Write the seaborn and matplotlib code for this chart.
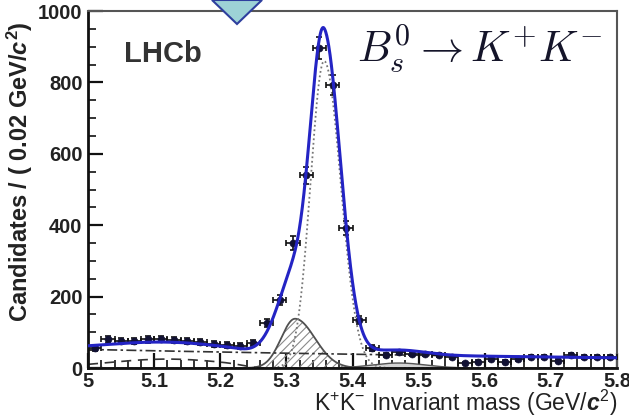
import numpy as np
import pandas as pd
import matplotlib
matplotlib.use("Agg")
import matplotlib.pyplot as plt
import seaborn as sns
from matplotlib.patches import Polygon
from matplotlib.ticker import MultipleLocator

# ---------------- data ----------------
mass_bins = [5.01, 5.03, 5.05, 5.07, 5.09, 5.11, 5.13, 5.15, 5.17, 5.19,
             5.21, 5.23, 5.25, 5.27, 5.29, 5.31, 5.33, 5.35, 5.37, 5.39,
             5.41, 5.43, 5.45, 5.47, 5.49, 5.51, 5.53, 5.55, 5.57, 5.59,
             5.61, 5.63, 5.65, 5.67, 5.69, 5.71, 5.73, 5.75, 5.77, 5.79]
candidates = [55, 80, 76, 76, 80, 82, 79, 76, 72, 68,
              65, 62, 70, 126, 190, 350, 540, 896, 793, 392,
              134, 56, 36, 45, 39, 39, 36, 31, 14, 17,
              25, 17, 25, 31, 30, 20, 36, 31, 30, 30]
bin_half_width = 0.01

x_ticks = [5.0, 5.1, 5.2, 5.3, 5.4, 5.5, 5.6, 5.7, 5.8]
x_tick_labels = ["5", "5.1", "5.2", "5.3", "5.4", "5.5", "5.6", "5.7", "5.8"]
y_ticks = [0, 200, 400, 600, 800, 1000]
y_tick_labels = ["0", "200", "400", "600", "800", "1000"]

# fit-model component parameters
sig_mean, sig_sigma_left, sig_sigma_right, sig_peak = 5.357, 0.0205, 0.025, 860
misid_mean, misid_sigma_left, misid_sigma_right, misid_peak = 5.313, 0.021, 0.030, 138
extra_mean, extra_sigma, extra_peak = 5.298, 0.025, 76
comb_norm, comb_slope = 52, -0.75
part_peak, part_mean, part_width, part_edge, part_edge_width = 25, 5.12, 0.09, 5.24, 0.01
hump_peak, hump_mean, hump_sigma = 14, 5.47, 0.04

# ---------------- model curves ----------------
m = np.linspace(5.0, 5.8, 1601)

def bifur_gauss(x, mu, sl, sr, h):
    s = np.where(x < mu, sl, sr)
    return h * np.exp(-0.5 * ((x - mu) / s) ** 2)

signal = bifur_gauss(m, sig_mean, sig_sigma_left, sig_sigma_right, sig_peak)
misid = bifur_gauss(m, misid_mean, misid_sigma_left, misid_sigma_right, misid_peak)
extra = bifur_gauss(m, extra_mean, extra_sigma, extra_sigma, extra_peak)
comb = comb_norm * np.exp(comb_slope * (m - 5.0))
partial = part_peak * np.exp(-0.5 * ((m - part_mean) / part_width) ** 2) / \
    (1 + np.exp((m - part_edge) / part_edge_width))
hump = bifur_gauss(m, hump_mean, hump_sigma, hump_sigma, hump_peak)
total = signal + misid + extra + comb + partial + hump

curves = pd.DataFrame({"m": m, "signal": signal, "misid": misid, "comb": comb,
                       "partial": partial, "hump": hump, "total": total})
data = pd.DataFrame({"m": mass_bins, "n": candidates})
data["err"] = np.sqrt(data["n"])

# ---------------- style ----------------
sns.set_theme(style="ticks")
plt.rcParams["font.family"] = ["Liberation Sans", "DejaVu Sans"]
plt.rcParams["mathtext.fontset"] = "custom"
plt.rcParams["mathtext.rm"] = "Liberation Sans"
plt.rcParams["mathtext.it"] = "Liberation Sans:italic:bold"
plt.rcParams["mathtext.bf"] = "Liberation Sans:bold"
plt.rcParams["hatch.linewidth"] = 0.8

fig = plt.figure(figsize=(6.29, 4.18), dpi=100)
fig.patch.set_facecolor("white")
ax = fig.add_axes([0.140, 0.1196, 0.841, 0.854])
ax.set_facecolor("white")

# components
ax.fill_between(curves["m"], 0, curves["hump"], facecolor="#d4d4d4",
                edgecolor="none", zorder=1)
sns.lineplot(data=curves, x="m", y="hump", ax=ax, color="#555555", lw=1.0,
             estimator=None, sort=False, zorder=2)
ax.fill_between(curves["m"], 0, curves["misid"], facecolor="none",
                edgecolor="#8a8a8a", hatch="////", linewidth=0, zorder=1)
sns.lineplot(data=curves, x="m", y="misid", ax=ax, color="#505050", lw=1.3,
             estimator=None, sort=False, zorder=2)
sns.lineplot(data=curves, x="m", y="partial", ax=ax, color="#333333", lw=1.2,
             linestyle=(0, (6, 4)), estimator=None, sort=False, zorder=2)
sns.lineplot(data=curves, x="m", y="comb", ax=ax, color="#333333", lw=1.2,
             linestyle=(0, (6, 2, 1.5, 2)), estimator=None, sort=False, zorder=2)
sns.lineplot(data=curves, x="m", y="signal", ax=ax, color="#777777", lw=1.3,
             linestyle=(0, (1, 1.5)), estimator=None, sort=False, zorder=2)

# data points
ax.errorbar(data["m"], data["n"], xerr=bin_half_width, yerr=data["err"],
            fmt="none", ecolor="#111111", elinewidth=1.2, capsize=2,
            capthick=1.2, zorder=3)
sns.scatterplot(data=data, x="m", y="n", ax=ax, marker="o", s=26,
                color="#111133", edgecolor="#111133", zorder=4)

# total fit
sns.lineplot(data=curves, x="m", y="total", ax=ax, color="#2424c4", lw=2.2,
             estimator=None, sort=False, zorder=5)

# axes
ax.set_xlim(5.0, 5.8)
ax.set_ylim(0, 1000)
ax.set_xticks(x_ticks)
ax.set_xticklabels(x_tick_labels, fontweight="bold", fontsize=14.5, color="#222222")
ax.set_yticks(y_ticks)
ax.set_yticklabels(y_tick_labels, fontweight="bold", fontsize=14.5, color="#222222")
ax.xaxis.set_minor_locator(MultipleLocator(0.02))
ax.yaxis.set_minor_locator(MultipleLocator(50))
ax.tick_params(which="both", direction="in", top=False, right=False,
               color="#111111")
ax.tick_params(which="major", length=11, width=1.6, pad=4)
ax.tick_params(axis="x", which="major", pad=3)
ax.tick_params(which="minor", length=5.5, width=1.2)
ax.set_xlabel("")
ax.set_ylabel("")
for side in ["left", "bottom"]:
    ax.spines[side].set_linewidth(2.0)
    ax.spines[side].set_color("#111111")
for side in ["top", "right"]:
    ax.spines[side].set_visible(True)
    ax.spines[side].set_linewidth(1.5)
    ax.spines[side].set_color("#555555")

W, H = 629.0, 418.0
fig.text(20 / W, 1 - 172 / H, r"Candidates / ( 0.02 GeV/$\mathit{c}^{\mathbf{2}}$)",
         rotation=90, ha="center", va="center", fontsize=17,
         fontweight="bold", color="#222222")
fig.text(618 / W, 1 - 411 / H,
         r"K$^{\mathrm{+}}$K$^{\mathrm{-}}$ Invariant mass (GeV/$\mathit{c}^{\mathrm{2}}$)",
         ha="right", va="baseline", fontsize=16.5, color="#222222")
fig.text(124 / W, 1 - 62 / H, "LHCb", ha="left", va="baseline", fontsize=21,
         fontweight="bold", color="#333333")
fig.text(357 / W, 1 - 62 / H, r"$B_s^0 \rightarrow K^{+}K^{-}$", ha="left",
         va="baseline", fontsize=31, color="#15152a", math_fontfamily="cm")

tri = Polygon([(212 / W, 1.0), (262 / W, 1.0), (237 / W, 1 - 24 / H)],
              closed=True, transform=fig.transFigure, facecolor="#9dd2d6",
              edgecolor="#2e3f9e", lw=1.5, zorder=10)
fig.add_artist(tri)

fig.savefig("out.png", dpi=100)
